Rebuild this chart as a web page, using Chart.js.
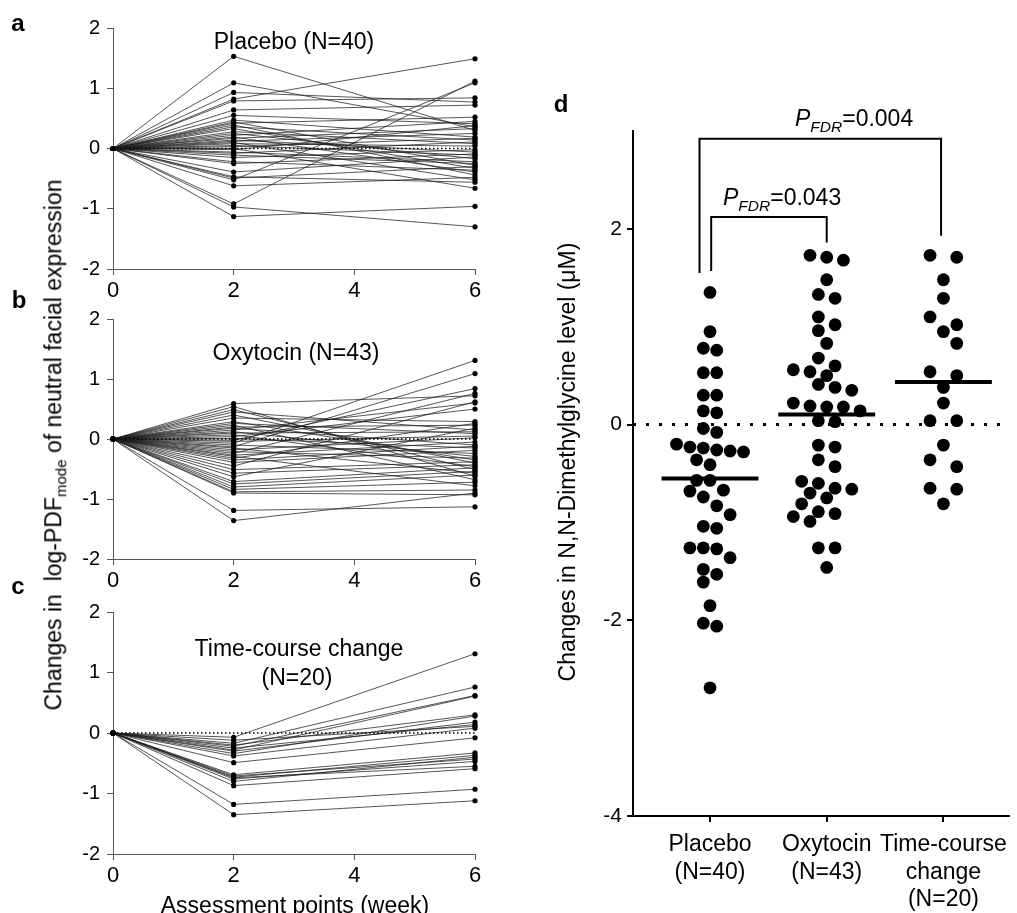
<!DOCTYPE html>
<html>
<head>
<meta charset="utf-8">
<script src="https://cdn.jsdelivr.net/npm/chart.js@4.4.0/dist/chart.umd.min.js"></script>
<style>
body { margin:0; background:#fff; width:1017px; height:913px; overflow:hidden; position:relative; font-family:"Liberation Sans", Arial, sans-serif; color:#000; }
canvas { position:absolute; }
.t { position:absolute; white-space:nowrap; font-size:23px; line-height:1; transform:translate(-50%,-50%); }
.lbl { position:absolute; font-weight:bold; font-size:24px; line-height:1; transform:translate(-50%,-50%); }
.rot { transform:translate(-50%,-50%) rotate(-90deg); }
.p { position:absolute; white-space:nowrap; font-size:23px; line-height:1; transform:translate(0,-50%); }
.p i.sub { font-size:15.5px; position:relative; top:6px; }
sub { font-size:15px; vertical-align:-0.3em; }
</style>
</head>
<body>
<canvas id="ca" width="500" height="300" style="left:0;top:0"></canvas>
<canvas id="cb" width="500" height="290" style="left:0;top:300px"></canvas>
<canvas id="cc" width="500" height="323" style="left:0;top:590px"></canvas>
<canvas id="cd" width="477" height="853" style="left:540px;top:60px"></canvas>

<div class="lbl" style="left:18px;top:23px">a</div>
<div class="lbl" style="left:19px;top:300px">b</div>
<div class="lbl" style="left:18px;top:586px">c</div>
<div class="lbl" style="left:561px;top:104px">d</div>

<div class="t" style="left:294px;top:41px">Placebo (N=40)</div>
<div class="t" style="left:296px;top:352px">Oxytocin (N=43)</div>
<div class="t" style="left:299px;top:648px">Time-course change</div>
<div class="t" style="left:297px;top:677px">(N=20)</div>
<div class="t" style="left:295px;top:905px">Assessment points (week)</div>
<div class="t rot" style="left:55px;top:445px">Changes in&nbsp; log-PDF<sub>mode</sub> of neutral facial expression</div>
<div class="t rot" style="left:567px;top:462px">Changes in N,N-Dimethylglycine level (μM)</div>

<div class="p" style="left:795px;top:118px"><i>P</i><i class="sub">FDR</i>=0.004</div>
<div class="p" style="left:723px;top:197px"><i>P</i><i class="sub">FDR</i>=0.043</div>

<script>
const FONT = '"Liberation Sans", Arial, sans-serif';

// weeks of assessment, change from baseline (week 0 = 0)
const weeks = [0, 2, 6];
const leftXTicks = [0, 2, 4, 6];
const leftYTicks = [-2, -1, 0, 1, 2];

const placeboW2 = [1.53, 1.09, 0.93, 0.82, 0.79, 0.64, 0.55, 0.47, 0.44, 0.42, 0.39, 0.36, 0.33, 0.28, 0.25, 0.22, 0.19, 0.17, 0.14, 0.12,
  0.10, 0.08, 0.05, 0.03, 0.00, -0.02, -0.06, -0.08, -0.11, -0.15, -0.22, -0.25, -0.39, -0.47, -0.49, -0.52, -0.62, -0.92, -0.97, -1.13];
const placeboW6 = [0.30, 0.36, 0.77, 1.49, 0.84, 0.72, 0.41, 0.19, -0.28, 0.52, -0.44, 0.14, -0.33, 0.08, -0.17, 0.45, -0.39, 0.33, -0.06, 0.25,
  -0.52, 0.04, -0.11, 0.17, -0.66, 0.38, -0.22, 0.11, -0.25, -0.02, -0.36, -0.09, -0.14, -0.56, -0.30, 1.09, -0.48, 1.12, -1.30, -0.96];

const oxytocinW2 = [0.59, 0.54, 0.49, 0.45, 0.40, 0.35, 0.29, 0.26, 0.23, 0.20, 0.18, 0.15, 0.12, 0.10, 0.07, 0.04, 0.01, -0.02, -0.04, -0.07,
  -0.10, -0.13, -0.15, -0.18, -0.21, -0.24, -0.27, -0.29, -0.32, -0.35, -0.39, -0.45, -0.51, -0.57, -0.63, -0.71, -0.75, -0.80, -0.84, -0.88,
  -0.90, -1.19, -1.36];
const oxytocinW6 = [0.72, -0.62, -0.51, 0.15, -0.40, 0.29, -0.35, 0.09, -0.68, 0.23, -0.10, 0.60, -0.29, 0.12, -0.46, 0.50, -0.15, 0.84, 0.05, 1.31,
  -0.24, 1.09, -0.57, 0.02, -0.32, 0.76, -0.05, -0.78, 0.26, -0.12, -0.19, 0.62, -0.38, -0.43, 0.18, -0.48, -0.54, -0.60, -0.72, -0.85,
  -0.93, -1.13, -0.90];

const timeCourseW2 = [-0.07, -0.12, -0.17, -0.20, -0.22, -0.25, -0.28, -0.30, -0.34, -0.38, -0.49, -0.69, -0.71, -0.73, -0.74, -0.76, -0.80, -0.87, -1.18, -1.35];
const timeCourseW6 = [1.31, 0.11, 0.76, 0.30, 0.62, 0.14, 0.61, 0.18, 0.28, 0.08, -0.08, -0.33, -0.43, -0.37, -0.55, -0.47, -0.40, -0.59, -0.93, -1.12];

// panel d
const dCategories = [['Placebo', '(N=40)'], ['Oxytocin', '(N=43)'], ['Time-course', 'change', '(N=20)']];
const dYTicks = [-4, -2, 0, 2];
const placeboDmg = [1.35, 0.95, 0.78, 0.76, 0.53, 0.53, 0.30, 0.30, 0.14, 0.12, -0.04, -0.08, -0.20, -0.23, -0.24, -0.26, -0.27, -0.28, -0.36, -0.41,
  -0.57, -0.57, -0.67, -0.68, -0.74, -0.83, -0.92, -1.04, -1.06, -1.26, -1.26, -1.27, -1.36, -1.48, -1.53, -1.61, -1.85, -2.03, -2.06, -2.69];
const oxytocinDmg = [1.73, 1.71, 1.68, 1.48, 1.33, 1.29, 1.10, 1.02, 0.96, 0.83, 0.68, 0.60, 0.56, 0.54, 0.50, 0.41, 0.38, 0.35, 0.22, 0.19,
  0.18, 0.18, 0.14, 0.04, 0.03, -0.21, -0.23, -0.36, -0.43, -0.58, -0.60, -0.65, -0.66, -0.70, -0.75, -0.81, -0.89, -0.91, -0.94, -0.99,
  -1.26, -1.26, -1.46];
const timeCourseDmg = [1.73, 1.71, 1.48, 1.29, 1.10, 1.02, 0.95, 0.83, 0.54, 0.50, 0.38, 0.22, 0.04, 0.04, -0.21, -0.36, -0.43, -0.65, -0.66, -0.81];
// significance brackets: [left x, right x, top y, left leg bottom, right leg bottom]
const brackets = [[0.91, 2.98, 2.92, 1.55, 1.93], [1.01, 2.0, 2.12, 1.57, 1.86]];

const axisGrid = { drawOnChartArea: false, tickLength: 6, color: '#555' };

function spaghetti(id, w2, w6, padTop, xHeight) {
  const datasets = [{
    data: [{ x: 0, y: 0 }, { x: 6, y: 0 }],
    borderColor: '#000', borderWidth: 1.5, borderDash: [1.5, 2.5], pointRadius: 0, clip: false
  }];
  w2.forEach((v, i) => {
    const ys = [0, v, w6[i]];
    datasets.push({
      data: weeks.map((w, k) => ({ x: w, y: ys[k] })),
      borderColor: 'rgba(30,30,30,0.75)', borderWidth: 1,
      pointRadius: 2.6, pointBackgroundColor: '#000', pointBorderWidth: 0, clip: false
    });
  });
  new Chart(document.getElementById(id), {
    type: 'line',
    data: { datasets },
    options: {
      responsive: false, animation: false, devicePixelRatio: 1,
      layout: { padding: { left: 0, right: 25, top: padTop, bottom: 0 } },
      plugins: { legend: { display: false }, tooltip: { enabled: false } },
      scales: {
        x: {
          type: 'linear', min: 0, max: 6,
          afterBuildTicks: s => { s.ticks = leftXTicks.map(v => ({ value: v })); },
          afterFit: s => { s.height = xHeight; },
          ticks: { font: { size: 22, family: FONT }, color: '#000', padding: 3 },
          grid: axisGrid, border: { color: '#555' }
        },
        y: {
          min: -2, max: 2,
          afterBuildTicks: s => { s.ticks = leftYTicks.map(v => ({ value: v })); },
          afterFit: s => { s.width = 113; },
          ticks: { font: { size: 20, family: FONT }, color: '#000', padding: 7 },
          grid: axisGrid, border: { color: '#555' }
        }
      }
    }
  });
}

spaghetti('ca', placeboW2, placeboW6, 28, 31);
spaghetti('cb', oxytocinW2, oxytocinW6, 18, 31);
spaghetti('cc', timeCourseW2, timeCourseW6, 22, 59);

// panel d
const groups = [placeboDmg, oxytocinDmg, timeCourseDmg];
const mean = a => a.reduce((s, v) => s + v, 0) / a.length;
const dsD = [];
groups.forEach((g, i) => dsD.push({
  type: 'scatter', data: g.map(v => ({ x: i + 1, y: v })),
  pointRadius: 6.4, pointBackgroundColor: '#000', pointBorderWidth: 0
}));
dsD.push({ type: 'line', data: [{ x: 0.34, y: 0 }, { x: 3.56, y: 0 }], borderColor: '#000', borderWidth: 3, borderDash: [3, 10], pointRadius: 0 });
groups.forEach((g, i) => {
  const m = mean(g);
  dsD.push({ type: 'line', data: [{ x: i + 0.585, y: m }, { x: i + 1.415, y: m }], borderColor: '#000', borderWidth: 4, pointRadius: 0 });
});
brackets.forEach(b => dsD.push({
  type: 'line',
  data: [{ x: b[0], y: b[3] }, { x: b[0], y: b[2] }, { x: b[1], y: b[2] }, { x: b[1], y: b[4] }],
  borderColor: '#000', borderWidth: 2, pointRadius: 0, tension: 0
}));

const chartD = new Chart(document.getElementById('cd'), {
  data: { datasets: dsD },
  options: {
    responsive: false, animation: false, devicePixelRatio: 1,
    layout: { padding: { left: 0, right: 0, top: 71, bottom: 0 } },
    plugins: { legend: { display: false }, tooltip: { enabled: false } },
    scales: {
      x: {
        type: 'linear', min: 0.34, max: 3.56,
        afterBuildTicks: s => { s.ticks = dCategories.map((c, i) => ({ value: i + 1 })); },
        afterFit: s => { s.height = 97; },
        ticks: {
          font: { size: 23, family: FONT, lineHeight: 1.2 }, color: '#000', padding: 9,
          callback: v => dCategories[Math.round(v) - 1]
        },
        grid: { drawOnChartArea: false, tickLength: 6, color: '#000', lineWidth: 2 },
        border: { color: '#000', width: 2 }
      },
      y: {
        min: -4, max: 3,
        afterBuildTicks: s => { s.ticks = dYTicks.map(v => ({ value: v })); },
        afterFit: s => { s.width = 93; },
        ticks: { font: { size: 21, family: FONT }, color: '#000', padding: 5 },
        grid: { drawOnChartArea: false, tickLength: 6, color: '#000', lineWidth: 2 },
        border: { color: '#000', width: 2 }
      }
    }
  }
});

// simple beeswarm: rows of close values, centred, shifted to avoid overlaps
function swarm(chart) {
  const xs = chart.scales.x, ys = chart.scales.y;
  const d = 13.4;
  const slot = [13.4, 16.7, 26.7];
  const pxX = xs.getPixelForValue(1) - xs.getPixelForValue(0);
  const shifts = [0, 0.5, -0.5, 1, -1, 1.5, -1.5];
  groups.forEach((vals, gi) => {
    const sorted = vals.slice().sort((a, b) => b - a);
    const placed = [];
    const w = slot[gi];
    let i = 0;
    while (i < sorted.length) {
      const row = [sorted[i]];
      let j = i + 1;
      while (j < sorted.length && ys.getPixelForValue(sorted[j]) - ys.getPixelForValue(sorted[i]) < d * 0.75) { row.push(sorted[j]); j++; }
      for (let k = 0; k < shifts.length; k++) {
        const cand = row.map((v, n) => ({ ox: (n - (row.length - 1) / 2 + shifts[k]) * w, py: ys.getPixelForValue(v), v }));
        const ok = cand.every(c => placed.every(p => Math.hypot(c.ox - p.ox, c.py - p.py) >= d * 0.9));
        if (ok || k === shifts.length - 1) { placed.push(...cand); break; }
      }
      i = j;
    }
    chart.data.datasets[gi].data = placed.map(p => ({ x: gi + 1 + p.ox / pxX, y: p.v }));
  });
  chart.update('none');
}
swarm(chartD);
</script>
</body>
</html>
